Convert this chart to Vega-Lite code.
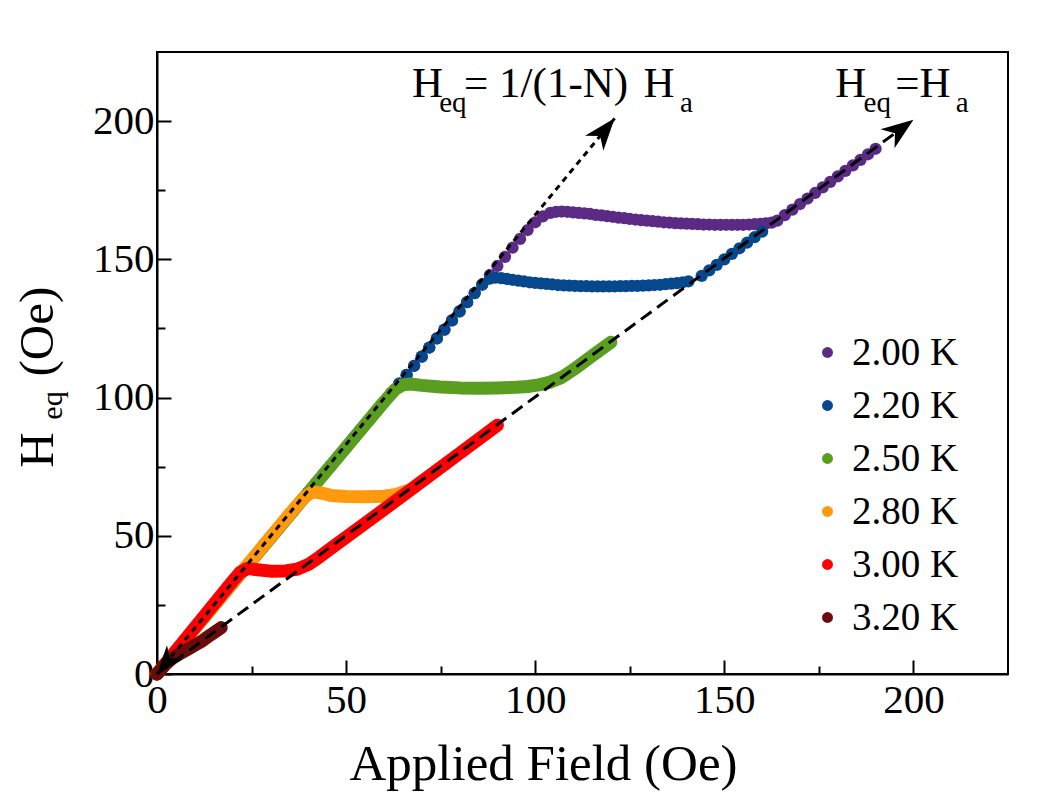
{
  "$schema": "https://vega.github.io/schema/vega-lite/v6.json",
  "width": 851,
  "height": 622,
  "autosize": {"type": "none"},
  "padding": {"left": 157, "top": 52, "right": 55, "bottom": 124},
  "background": "white",
  "config": {"view": {"stroke": "black", "strokeWidth": 2}, "font": "Liberation Serif"},
  "datasets": {
    "pts": [
      {"T":"2.00 K","x":0,"y":0},{"T":"2.00 K","x":2,"y":3.3},{"T":"2.00 K","x":4,"y":6.6},{"T":"2.00 K","x":6,"y":9.8},{"T":"2.00 K","x":8,"y":13.1},{"T":"2.00 K","x":10,"y":16.4},{"T":"2.00 K","x":12,"y":19.7},{"T":"2.00 K","x":14,"y":23},{"T":"2.00 K","x":16,"y":26.2},{"T":"2.00 K","x":18,"y":29.5},{"T":"2.00 K","x":20,"y":32.8},{"T":"2.00 K","x":22,"y":36.1},{"T":"2.00 K","x":24,"y":39.4},{"T":"2.00 K","x":26,"y":42.6},{"T":"2.00 K","x":28,"y":45.9},{"T":"2.00 K","x":30,"y":49.2},{"T":"2.00 K","x":32,"y":52.5},{"T":"2.00 K","x":34,"y":55.8},{"T":"2.00 K","x":36,"y":59},{"T":"2.00 K","x":38,"y":62.3},{"T":"2.00 K","x":40,"y":65.6},{"T":"2.00 K","x":42,"y":68.9},{"T":"2.00 K","x":44,"y":72.2},{"T":"2.00 K","x":46,"y":75.4},{"T":"2.00 K","x":48,"y":78.7},{"T":"2.00 K","x":50,"y":82},{"T":"2.00 K","x":52,"y":85.3},{"T":"2.00 K","x":54,"y":88.6},{"T":"2.00 K","x":56,"y":91.8},{"T":"2.00 K","x":58,"y":95.1},{"T":"2.00 K","x":60,"y":98.4},{"T":"2.00 K","x":62,"y":101.7},{"T":"2.00 K","x":64,"y":105},{"T":"2.00 K","x":66,"y":108.2},{"T":"2.00 K","x":68,"y":111.5},{"T":"2.00 K","x":70,"y":114.8},{"T":"2.00 K","x":72,"y":118.1},{"T":"2.00 K","x":74,"y":121.4},{"T":"2.00 K","x":76,"y":124.6},{"T":"2.00 K","x":78,"y":127.9},{"T":"2.00 K","x":80,"y":131.2},{"T":"2.00 K","x":82,"y":134.5},{"T":"2.00 K","x":84,"y":137.8},{"T":"2.00 K","x":86,"y":141},{"T":"2.00 K","x":88,"y":144.3},{"T":"2.00 K","x":90,"y":147.6},{"T":"2.00 K","x":92,"y":150.9},{"T":"2.00 K","x":94,"y":154.2},{"T":"2.00 K","x":96,"y":157.4},{"T":"2.00 K","x":98,"y":160.6},{"T":"2.00 K","x":100,"y":163.4},{"T":"2.00 K","x":102,"y":165.5},{"T":"2.00 K","x":104,"y":166.8},
      {"T":"2.00 K","x":105.5,"y":167.2},{"T":"2.00 K","x":107,"y":167.3},{"T":"2.00 K","x":108.5,"y":167.2},{"T":"2.00 K","x":110,"y":167},{"T":"2.00 K","x":111.5,"y":166.8},{"T":"2.00 K","x":113,"y":166.6},{"T":"2.00 K","x":114.5,"y":166.4},{"T":"2.00 K","x":116,"y":166.1},{"T":"2.00 K","x":117.5,"y":165.9},{"T":"2.00 K","x":119,"y":165.6},{"T":"2.00 K","x":120.5,"y":165.4},{"T":"2.00 K","x":122,"y":165.1},{"T":"2.00 K","x":123.5,"y":164.9},{"T":"2.00 K","x":125,"y":164.6},{"T":"2.00 K","x":126.5,"y":164.4},{"T":"2.00 K","x":128,"y":164.2},{"T":"2.00 K","x":129.5,"y":164},{"T":"2.00 K","x":131,"y":163.8},{"T":"2.00 K","x":132.5,"y":163.6},{"T":"2.00 K","x":134,"y":163.4},{"T":"2.00 K","x":135.5,"y":163.3},{"T":"2.00 K","x":137,"y":163.1},{"T":"2.00 K","x":138.5,"y":163},{"T":"2.00 K","x":140,"y":162.9},{"T":"2.00 K","x":141.5,"y":162.8},{"T":"2.00 K","x":143,"y":162.7},{"T":"2.00 K","x":144.5,"y":162.6},{"T":"2.00 K","x":146,"y":162.6},{"T":"2.00 K","x":147.5,"y":162.5},{"T":"2.00 K","x":149,"y":162.5},{"T":"2.00 K","x":150.5,"y":162.5},{"T":"2.00 K","x":152,"y":162.5},{"T":"2.00 K","x":153.5,"y":162.5},{"T":"2.00 K","x":155,"y":162.5},{"T":"2.00 K","x":156.5,"y":162.6},{"T":"2.00 K","x":158,"y":162.7},{"T":"2.00 K","x":159.5,"y":162.8},{"T":"2.00 K","x":161,"y":163},{"T":"2.00 K","x":162.5,"y":163.3},
      {"T":"2.00 K","x":164,"y":164},{"T":"2.00 K","x":166,"y":166},{"T":"2.00 K","x":168,"y":168},{"T":"2.00 K","x":170,"y":170},{"T":"2.00 K","x":172,"y":172},{"T":"2.00 K","x":174,"y":174},{"T":"2.00 K","x":176,"y":176},{"T":"2.00 K","x":178,"y":178},{"T":"2.00 K","x":180,"y":180},{"T":"2.00 K","x":182,"y":182},{"T":"2.00 K","x":184,"y":184},{"T":"2.00 K","x":186,"y":186},{"T":"2.00 K","x":188,"y":188},{"T":"2.00 K","x":190,"y":190},
      {"T":"2.20 K","x":0,"y":0},{"T":"2.20 K","x":2,"y":3.3},{"T":"2.20 K","x":4,"y":6.6},{"T":"2.20 K","x":6,"y":9.8},{"T":"2.20 K","x":8,"y":13.1},{"T":"2.20 K","x":10,"y":16.4},{"T":"2.20 K","x":12,"y":19.7},{"T":"2.20 K","x":14,"y":23},{"T":"2.20 K","x":16,"y":26.2},{"T":"2.20 K","x":18,"y":29.5},{"T":"2.20 K","x":20,"y":32.8},{"T":"2.20 K","x":22,"y":36.1},{"T":"2.20 K","x":24,"y":39.4},{"T":"2.20 K","x":26,"y":42.6},{"T":"2.20 K","x":28,"y":45.9},{"T":"2.20 K","x":30,"y":49.2},{"T":"2.20 K","x":32,"y":52.5},{"T":"2.20 K","x":34,"y":55.8},{"T":"2.20 K","x":36,"y":59},{"T":"2.20 K","x":38,"y":62.3},{"T":"2.20 K","x":40,"y":65.6},{"T":"2.20 K","x":42,"y":68.9},{"T":"2.20 K","x":44,"y":72.2},{"T":"2.20 K","x":46,"y":75.4},{"T":"2.20 K","x":48,"y":78.7},{"T":"2.20 K","x":50,"y":82},{"T":"2.20 K","x":52,"y":85.3},{"T":"2.20 K","x":54,"y":88.6},{"T":"2.20 K","x":56,"y":91.8},{"T":"2.20 K","x":58,"y":95.1},{"T":"2.20 K","x":60,"y":98.4},{"T":"2.20 K","x":62,"y":101.7},{"T":"2.20 K","x":64,"y":105},{"T":"2.20 K","x":66,"y":108.2},{"T":"2.20 K","x":68,"y":111.5},{"T":"2.20 K","x":70,"y":114.8},{"T":"2.20 K","x":72,"y":118.1},{"T":"2.20 K","x":74,"y":121.4},{"T":"2.20 K","x":76,"y":124.6},{"T":"2.20 K","x":78,"y":127.9},{"T":"2.20 K","x":80,"y":131.2},{"T":"2.20 K","x":82,"y":134.5},{"T":"2.20 K","x":84,"y":137.8},{"T":"2.20 K","x":86,"y":140.8},{"T":"2.20 K","x":88,"y":143},{"T":"2.20 K","x":89.5,"y":143.4},
      {"T":"2.20 K","x":91,"y":143.2},{"T":"2.20 K","x":92.5,"y":142.9},{"T":"2.20 K","x":94,"y":142.6},{"T":"2.20 K","x":95.5,"y":142.3},{"T":"2.20 K","x":97,"y":142},{"T":"2.20 K","x":98.5,"y":141.7},{"T":"2.20 K","x":100,"y":141.5},{"T":"2.20 K","x":101.5,"y":141.3},{"T":"2.20 K","x":103,"y":141.1},{"T":"2.20 K","x":104.5,"y":140.9},{"T":"2.20 K","x":106,"y":140.7},{"T":"2.20 K","x":107.5,"y":140.6},{"T":"2.20 K","x":109,"y":140.5},{"T":"2.20 K","x":110.5,"y":140.4},{"T":"2.20 K","x":112,"y":140.3},{"T":"2.20 K","x":113.5,"y":140.3},{"T":"2.20 K","x":115,"y":140.2},{"T":"2.20 K","x":116.5,"y":140.2},{"T":"2.20 K","x":118,"y":140.2},{"T":"2.20 K","x":119.5,"y":140.2},{"T":"2.20 K","x":121,"y":140.2},{"T":"2.20 K","x":122.5,"y":140.3},{"T":"2.20 K","x":124,"y":140.3},{"T":"2.20 K","x":125.5,"y":140.4},{"T":"2.20 K","x":127,"y":140.4},{"T":"2.20 K","x":128.5,"y":140.5},{"T":"2.20 K","x":130,"y":140.6},{"T":"2.20 K","x":131.5,"y":140.7},{"T":"2.20 K","x":133,"y":140.8},{"T":"2.20 K","x":134.5,"y":141},{"T":"2.20 K","x":136,"y":141.2},{"T":"2.20 K","x":137.5,"y":141.4},{"T":"2.20 K","x":139,"y":141.7},{"T":"2.20 K","x":140.5,"y":142},
      {"T":"2.20 K","x":144,"y":144},{"T":"2.20 K","x":146,"y":146},{"T":"2.20 K","x":148,"y":148},{"T":"2.20 K","x":150,"y":150},{"T":"2.20 K","x":152,"y":152},{"T":"2.20 K","x":154,"y":154},{"T":"2.20 K","x":156,"y":156},{"T":"2.20 K","x":158,"y":158},{"T":"2.20 K","x":160,"y":160}
    ],
    "dense": [
      {"T":"2.50 K","x":0,"y":0},{"T":"2.50 K","x":10,"y":16.4},{"T":"2.50 K","x":20,"y":32.8},{"T":"2.50 K","x":30,"y":49.2},{"T":"2.50 K","x":40,"y":65.6},{"T":"2.50 K","x":50,"y":82},{"T":"2.50 K","x":60,"y":98.4},{"T":"2.50 K","x":63,"y":103},{"T":"2.50 K","x":65,"y":104.6},{"T":"2.50 K","x":67,"y":104.9},{"T":"2.50 K","x":70,"y":104.4},{"T":"2.50 K","x":75,"y":103.8},{"T":"2.50 K","x":80,"y":103.5},{"T":"2.50 K","x":85,"y":103.4},{"T":"2.50 K","x":90,"y":103.5},{"T":"2.50 K","x":95,"y":103.7},{"T":"2.50 K","x":98,"y":104},{"T":"2.50 K","x":101,"y":104.6},{"T":"2.50 K","x":104,"y":105.6},{"T":"2.50 K","x":107,"y":107.3},{"T":"2.50 K","x":110,"y":110},{"T":"2.50 K","x":115,"y":115},{"T":"2.50 K","x":120,"y":120},
      {"T":"2.80 K","x":0,"y":0},{"T":"2.80 K","x":10,"y":16.5},{"T":"2.80 K","x":20,"y":33},{"T":"2.80 K","x":30,"y":49.5},{"T":"2.80 K","x":36,"y":59.4},{"T":"2.80 K","x":39,"y":64},{"T":"2.80 K","x":41,"y":65.8},{"T":"2.80 K","x":43,"y":65.6},{"T":"2.80 K","x":46,"y":64.6},{"T":"2.80 K","x":50,"y":64.2},{"T":"2.80 K","x":55,"y":64.1},{"T":"2.80 K","x":60,"y":64.3},{"T":"2.80 K","x":63,"y":64.9},{"T":"2.80 K","x":66,"y":66.2},
      {"T":"3.00 K","x":0,"y":0},{"T":"3.00 K","x":5,"y":8.4},{"T":"3.00 K","x":10,"y":16.8},{"T":"3.00 K","x":15,"y":25.2},{"T":"3.00 K","x":20,"y":33.6},{"T":"3.00 K","x":22,"y":36.8},{"T":"3.00 K","x":24,"y":38.2},{"T":"3.00 K","x":26,"y":37.8},{"T":"3.00 K","x":30,"y":37.2},{"T":"3.00 K","x":34,"y":37.3},{"T":"3.00 K","x":37,"y":37.9},{"T":"3.00 K","x":40,"y":39.6},{"T":"3.00 K","x":43,"y":42.4},{"T":"3.00 K","x":47,"y":46.5},{"T":"3.00 K","x":50,"y":49.5},{"T":"3.00 K","x":60,"y":59.5},{"T":"3.00 K","x":70,"y":69.6},{"T":"3.00 K","x":80,"y":79.8},{"T":"3.00 K","x":90,"y":90},
      {"T":"3.20 K","x":0,"y":0},{"T":"3.20 K","x":2,"y":3.2},{"T":"3.20 K","x":4,"y":5.6},{"T":"3.20 K","x":6,"y":7.3},{"T":"3.20 K","x":8,"y":8.8},{"T":"3.20 K","x":10,"y":10.4},{"T":"3.20 K","x":12,"y":12},{"T":"3.20 K","x":14,"y":14},{"T":"3.20 K","x":17,"y":16.8}
    ],
    "refs": [
      {"k":"eq","x":0,"y":0},{"k":"eq","x":200,"y":200.5},
      {"k":"demag","x":0,"y":0},{"k":"demag","x":121,"y":201}
    ],
    "big": [
      {"t":"H","x":67.4,"y":208.9},{"t":"= 1/(1-N)","x":81.2,"y":208.9},{"t":"H","x":128.6,"y":208.9},
      {"t":"H","x":179.3,"y":208.9},{"t":"=H","x":195.2,"y":208.9}
    ],
    "sub": [
      {"t":"eq","x":74.6,"y":203.4},{"t":"a","x":138.3,"y":203.4},
      {"t":"eq","x":186.8,"y":203.4},{"t":"a","x":211.2,"y":203.4}
    ],
    "ybig": [{"t":"H","x":-27.6,"y":74.6},{"t":"(Oe)","x":-27.6,"y":107.6}],
    "ysub": [{"t":"eq","x":-25.2,"y":92}]
  },
  "encoding": {
    "x": {
      "field": "x", "type": "quantitative",
      "scale": {"domain": [0, 225], "nice": false, "zero": false},
      "axis": {
        "title": "Applied Field (Oe)",
        "titleX": 386, "titleAnchor": "middle",
        "values": [0, 25, 50, 75, 100, 125, 150, 175, 200],
        "labelExpr": "datum.value % 50 === 0 ? datum.label : ''",
        "tickSize": {"condition": {"test": "datum.value % 50 === 0", "value": -14}, "value": -8},
        "tickColor": "black", "tickWidth": 2,
        "domainColor": "black", "domainWidth": 2,
        "labelFont": "Liberation Serif", "labelFontSize": 41, "labelColor": "black", "labelPadding": 20,
        "labelFlush": false, "labelOverlap": false,
        "titleFont": "Liberation Serif", "titleFontSize": 51, "titleFontWeight": "normal", "titleColor": "black", "titlePadding": 13,
        "grid": false
      }
    },
    "y": {
      "field": "y", "type": "quantitative",
      "scale": {"domain": [0, 225], "nice": false, "zero": false},
      "axis": {
        "title": null,
        "values": [0, 25, 50, 75, 100, 125, 150, 175, 200],
        "labelExpr": "datum.value % 50 === 0 ? datum.label : ''",
        "tickSize": {"condition": {"test": "datum.value % 50 === 0", "value": -14}, "value": -8},
        "tickColor": "black", "tickWidth": 2,
        "domainColor": "black", "domainWidth": 2,
        "labelFont": "Liberation Serif", "labelFontSize": 41, "labelColor": "black", "labelPadding": 17,
        "labelFlush": false, "labelOverlap": false,
        "grid": false
      }
    }
  },
  "layer": [
    {
      "data": {"name": "pts"},
      "mark": {"type": "circle", "size": 150, "opacity": 1},
      "encoding": {
        "color": {
          "field": "T", "type": "nominal",
          "scale": {"domain": ["2.00 K", "2.20 K", "2.50 K", "2.80 K", "3.00 K", "3.20 K"],
                    "range": ["#5a2a84", "#07488c", "#5a9e1f", "#ff9a0e", "#ff0000", "#6b0b0b"]},
          "legend": {
            "orient": "none", "legendX": 651, "legendY": 281, "title": null,
            "symbolType": "circle", "symbolSize": 120, "symbolStrokeWidth": 0, "symbolOpacity": 1,
            "labelFont": "Liberation Serif", "labelFontSize": 39, "labelColor": "black",
            "labelOffset": 5, "rowPadding": 13, "padding": 0, "labelLimit": 300
          }
        }
      }
    },
    {
      "data": {"name": "dense"},
      "mark": {"type": "line", "strokeWidth": 13, "strokeCap": "round", "strokeJoin": "round"},
      "encoding": {
        "color": {"field": "T", "type": "nominal", "legend": null},
        "detail": {"field": "T"},
        "order": {"field": "x", "type": "quantitative"}
      }
    },
    {
      "data": {"name": "refs"},
      "transform": [{"filter": "datum.k === 'eq'"}],
      "mark": {"type": "line", "color": "black", "strokeWidth": 3, "strokeDash": [13, 7]},
      "encoding": {}
    },
    {
      "data": {"name": "refs"},
      "transform": [{"filter": "datum.k === 'demag'"}],
      "mark": {"type": "line", "color": "black", "strokeWidth": 3, "strokeDash": [6, 5]},
      "encoding": {}
    },
    {
      "data": {"values": [{"x": 200, "y": 200.5}]},
      "mark": {"type": "point", "shape": "M0,0L0.7,1.9L0,1.35L-0.7,1.9Z", "size": 1150, "filled": true, "color": "black", "opacity": 1, "angle": 53.7}
    },
    {
      "data": {"values": [{"x": 121, "y": 201}]},
      "mark": {"type": "point", "shape": "M0,0L0.7,1.9L0,1.35L-0.7,1.9Z", "size": 1150, "filled": true, "color": "black", "opacity": 1, "angle": 39.4}
    },
    {
      "data": {"values": [{"x": 0, "y": 0}]},
      "mark": {"type": "point", "shape": "M0,0L0.7,1.9L0,1.35L-0.7,1.9Z", "size": 900, "filled": true, "color": "black", "opacity": 1, "angle": 219.4}
    },
    {
      "data": {"name": "big"},
      "mark": {"type": "text", "font": "Liberation Serif", "fontSize": 43, "align": "left", "baseline": "alphabetic", "color": "black"},
      "encoding": {"text": {"field": "t"}}
    },
    {
      "data": {"name": "sub"},
      "mark": {"type": "text", "font": "Liberation Serif", "fontSize": 29, "align": "left", "baseline": "alphabetic", "color": "black"},
      "encoding": {"text": {"field": "t"}}
    },
    {
      "data": {"name": "ybig"},
      "mark": {"type": "text", "font": "Liberation Serif", "fontSize": 49, "align": "left", "baseline": "alphabetic", "color": "black", "angle": 270},
      "encoding": {"text": {"field": "t"}}
    },
    {
      "data": {"name": "ysub"},
      "mark": {"type": "text", "font": "Liberation Serif", "fontSize": 30, "align": "left", "baseline": "alphabetic", "color": "black", "angle": 270},
      "encoding": {"text": {"field": "t"}}
    }
  ]
}
